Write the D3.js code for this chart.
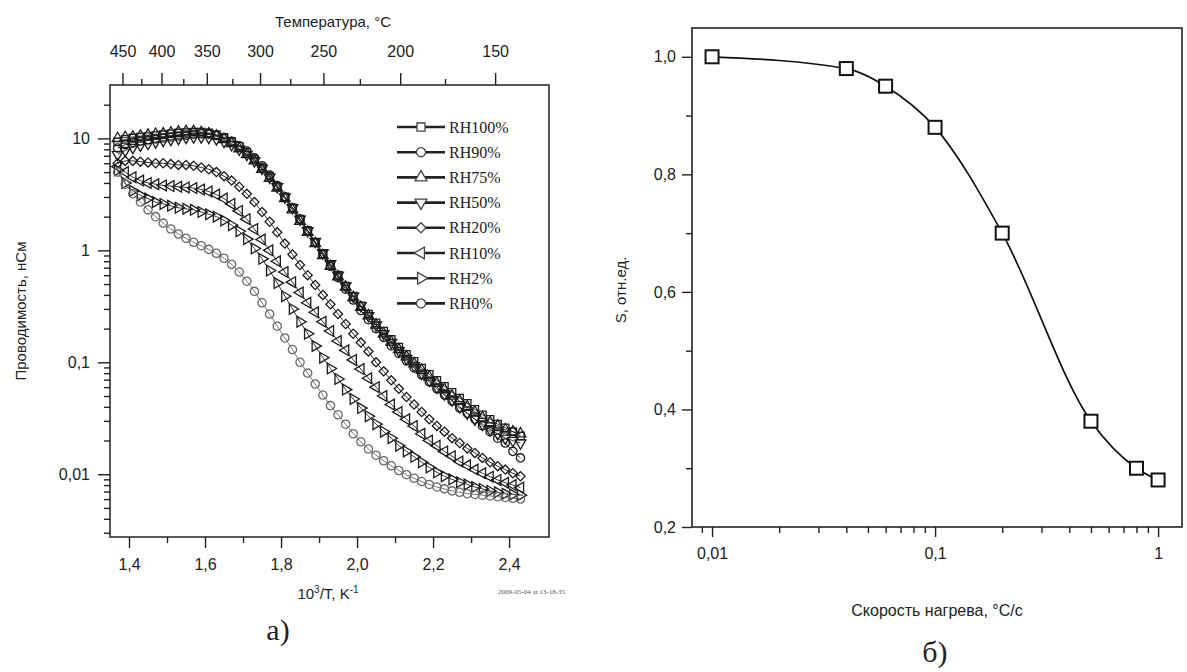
<!DOCTYPE html>
<html>
<head>
<meta charset="utf-8">
<script src="https://cdn.jsdelivr.net/npm/d3@7"></script>
<style>
body { margin: 0; background: #fff; }
text { font-family: "Liberation Sans", Arial, sans-serif; fill: #222; }
.serif { font-family: "Liberation Serif", "Times New Roman", serif; }
</style>
</head>
<body>
<svg width="1187" height="672"></svg>
<script>
// ---- data: panel a) conductivity vs 10^3/T ----
var invT = [1.37, 1.39, 1.41, 1.43, 1.45, 1.47, 1.49, 1.51, 1.53, 1.55,
  1.57, 1.59, 1.61, 1.63, 1.65, 1.67, 1.69, 1.71, 1.73, 1.75,
  1.77, 1.79, 1.81, 1.83, 1.85, 1.87, 1.89, 1.91, 1.93, 1.95,
  1.97, 1.99, 2.01, 2.03, 2.05, 2.07, 2.09, 2.11, 2.13, 2.15,
  2.17, 2.19, 2.21, 2.23, 2.25, 2.27, 2.29, 2.31, 2.33, 2.35,
  2.37, 2.39, 2.41, 2.43];

var rh100 = [9.3, 9.8, 10.1, 10.3, 10.4, 10.6, 10.8, 11.0, 11.2, 11.3,
  11.4, 11.4, 11.2, 10.8, 10.2, 9.4, 8.5, 7.5, 6.5, 5.5,
  4.6, 3.7, 3.0, 2.4, 1.9, 1.5, 1.18, 0.93, 0.74, 0.6,
  0.48, 0.39, 0.32, 0.27, 0.225, 0.19, 0.16, 0.137, 0.118, 0.102,
  0.089, 0.078, 0.069, 0.061, 0.054, 0.048, 0.043, 0.038, 0.034, 0.031,
  0.028, 0.026, 0.024, 0.022];
var rh90 = [8.2, 8.8, 9.2, 9.5, 9.7, 9.9, 10.1, 10.3, 10.5, 10.7,
  10.9, 11.0, 10.9, 10.6, 10.1, 9.4, 8.6, 7.7, 6.7, 5.7,
  4.7, 3.8, 3.0, 2.4, 1.9, 1.5, 1.17, 0.92, 0.72, 0.57,
  0.45, 0.36, 0.29, 0.24, 0.2, 0.167, 0.14, 0.12, 0.103, 0.089,
  0.077, 0.067, 0.058, 0.051, 0.045, 0.039, 0.035, 0.031, 0.027, 0.024,
  0.021, 0.019, 0.016, 0.014];
var rh75 = [10.0, 10.2, 10.3, 10.5, 10.7, 10.9, 11.0, 11.2, 11.4, 11.5,
  11.5, 11.3, 11.0, 10.5, 9.8, 9.0, 8.1, 7.2, 6.3, 5.3,
  4.4, 3.6, 2.9, 2.3, 1.82, 1.45, 1.15, 0.9, 0.72, 0.58,
  0.47, 0.38, 0.31, 0.26, 0.215, 0.18, 0.152, 0.13, 0.112, 0.097,
  0.085, 0.074, 0.065, 0.057, 0.05, 0.045, 0.04, 0.036, 0.032, 0.029,
  0.027, 0.025, 0.024, 0.023];
var rh50 = [7.2, 7.8, 8.3, 8.7, 9.0, 9.3, 9.6, 9.8, 10.0, 10.2,
  10.3, 10.3, 10.2, 9.9, 9.4, 8.8, 8.0, 7.2, 6.3, 5.4,
  4.5, 3.7, 3.0, 2.4, 1.9, 1.5, 1.2, 0.95, 0.76, 0.6,
  0.48, 0.39, 0.32, 0.26, 0.215, 0.18, 0.15, 0.127, 0.108, 0.093,
  0.08, 0.069, 0.06, 0.052, 0.046, 0.04, 0.035, 0.031, 0.028, 0.025,
  0.023, 0.021, 0.02, 0.019];
var rh20 = [6.0, 6.3, 6.3, 6.2, 6.1, 6.0, 6.0, 5.9, 5.8, 5.8,
  5.7, 5.5, 5.3, 5.0, 4.6, 4.2, 3.7, 3.2, 2.7, 2.2,
  1.8, 1.45, 1.15, 0.92, 0.74, 0.6, 0.49, 0.4, 0.33, 0.27,
  0.22, 0.18, 0.15, 0.125, 0.1, 0.083, 0.069, 0.058, 0.049, 0.042,
  0.036, 0.031, 0.027, 0.024, 0.021, 0.019, 0.017, 0.0155, 0.014, 0.0128,
  0.0118, 0.011, 0.0102, 0.0096];
var rh10 = [5.6, 5.0, 4.5, 4.2, 4.0, 3.9, 3.8, 3.75, 3.7, 3.65,
  3.6, 3.5, 3.35, 3.15, 2.9, 2.6, 2.25, 1.9, 1.55, 1.25,
  1.0, 0.8, 0.64, 0.52, 0.42, 0.34, 0.28, 0.23, 0.19, 0.155,
  0.128, 0.105, 0.087, 0.072, 0.06, 0.05, 0.042, 0.036, 0.031, 0.027,
  0.023, 0.02, 0.018, 0.016, 0.0145, 0.013, 0.012, 0.011, 0.0102, 0.0095,
  0.0089, 0.0084, 0.008, 0.0076];
var rh2 = [5.2, 4.0, 3.4, 3.1, 2.9, 2.7, 2.6, 2.5, 2.4, 2.35,
  2.3, 2.2, 2.1, 2.0, 1.85, 1.68, 1.48, 1.26, 1.04, 0.84,
  0.66, 0.51, 0.39, 0.3, 0.23, 0.18, 0.14, 0.11, 0.088, 0.071,
  0.057, 0.047, 0.039, 0.033, 0.028, 0.024, 0.021, 0.018, 0.016, 0.0143,
  0.0128, 0.0115, 0.0104, 0.0096, 0.009, 0.0085, 0.0081, 0.0077, 0.0074, 0.0071,
  0.0069, 0.0067, 0.0066, 0.0065];
var rh0 = [5.0, 3.9, 3.2, 2.7, 2.3, 2.0, 1.75, 1.55, 1.4, 1.28,
  1.18, 1.1, 1.02, 0.94, 0.85, 0.75, 0.64, 0.53, 0.43, 0.34,
  0.27, 0.21, 0.165, 0.13, 0.1, 0.08, 0.064, 0.051, 0.041, 0.034,
  0.028, 0.023, 0.0195, 0.0168, 0.0148, 0.0132, 0.0119, 0.0108, 0.0099, 0.0092,
  0.0086, 0.0081, 0.0077, 0.0074, 0.0071, 0.0069, 0.0067, 0.0066, 0.0065, 0.0064,
  0.0063, 0.0062, 0.0061, 0.006];

var seriesNames = ["RH100%", "RH90%", "RH75%", "RH50%", "RH20%", "RH10%", "RH2%", "RH0%"];
var seriesSymbols = ["square", "circle", "up", "down", "diamond", "left", "right", "circle"];
var seriesValues = [rh100, rh90, rh75, rh50, rh20, rh10, rh2, rh0];

var topTemps = [450, 400, 350, 300, 250, 200, 150];
var topTempsMinor = [425, 375, 325, 275, 225, 175];
var bottomTicks = [1.4, 1.6, 1.8, 2.0, 2.2, 2.4];
var bottomMinor = [1.5, 1.7, 1.9, 2.1, 2.3];
var leftTicks = [0.01, 0.1, 1, 10];

// ---- data: panel б) S vs heating rate ----
var rate = [0.01, 0.04, 0.06, 0.1, 0.2, 0.5, 0.8, 1];
var sRel = [1.0, 0.98, 0.95, 0.88, 0.70, 0.38, 0.30, 0.28];
var sTicks = [0.2, 0.4, 0.6, 0.8, 1.0];
var sMinor = [0.3, 0.5, 0.7, 0.9];
var rateTicks = [0.01, 0.1, 1];

var svg = d3.select("svg");
var comma = function(f) { return function(d) { return d3.format(f)(d).replace(".", ","); }; };

function symbolPath(kind, big) {
  var k = big ? 1.2 : 1;
  if (kind == "square") return d3.symbol(d3.symbolSquare, 54 * k)();
  if (kind == "circle") return d3.symbol(d3.symbolCircle, 54 * k)();
  if (kind == "diamond") return d3.symbol(d3.symbolSquare, 42 * k)();
  return d3.symbol(d3.symbolTriangle, 50 * k)();
}
function symbolRot(kind) {
  if (kind == "diamond") return 45;
  if (kind == "down") return 180;
  if (kind == "left") return -90;
  if (kind == "right") return 90;
  return 0;
}

function styleAxis(g) {
  g.select(".domain").remove();
  g.selectAll("line").attr("stroke", "#222").attr("stroke-width", 1.4);
  g.selectAll("text").attr("font-size", 16).attr("fill", "#222")
    .style("font-family", "'Liberation Sans', Arial, sans-serif");
}

// ================= panel a) =================
var x1 = d3.scaleLinear().domain([1.35, 2.505]).range([110, 549]);
var y1 = d3.scaleLog().domain([0.00275, 30]).range([537, 85]);

var minorLog = [];
[0.001, 0.01, 0.1, 1, 10].forEach(function(dec) {
  for (var m = 2; m <= 9; m++) {
    var v = dec * m;
    if (v > 0.00275 && v < 30) minorLog.push(v);
  }
});

svg.append("g").attr("transform", "translate(0,537)")
  .call(d3.axisBottom(x1).tickValues(bottomTicks).tickFormat(comma(".1f")).tickSize(11).tickPadding(11))
  .call(styleAxis);
svg.append("g").attr("transform", "translate(0,537)")
  .call(d3.axisBottom(x1).tickValues(bottomMinor).tickFormat("").tickSize(6))
  .call(styleAxis);

var invTemp = function(t) { return 1000 / (t + 273.15); };
svg.append("g").attr("transform", "translate(0,85)")
  .call(d3.axisTop(x1).tickValues(topTemps.map(invTemp))
    .tickFormat(function(d) { return Math.round(1000 / d - 273.15); }).tickSize(12).tickPadding(16))
  .call(styleAxis);
svg.append("g").attr("transform", "translate(0,85)")
  .call(d3.axisTop(x1).tickValues(topTempsMinor.map(invTemp)).tickFormat("").tickSize(6))
  .call(styleAxis);

svg.append("g").attr("transform", "translate(110,0)")
  .call(d3.axisLeft(y1).tickValues(leftTicks)
    .tickFormat(function(d) { return d >= 1 ? d3.format("d")(d) : comma("." + Math.round(-Math.log10(d)) + "f")(d); })
    .tickSize(12).tickPadding(8))
  .call(styleAxis);
svg.append("g").attr("transform", "translate(110,0)")
  .call(d3.axisLeft(y1).tickValues(minorLog).tickFormat("").tickSize(6))
  .call(styleAxis);

svg.append("rect").attr("x", 110).attr("y", 85).attr("width", 439).attr("height", 452)
  .attr("fill", "none").attr("stroke", "#222").attr("stroke-width", 1.5);

// curves
var line1 = d3.line()
  .x(function(d) { return x1(d[0]); })
  .y(function(d) { return y1(d[1]); });

var plot1 = svg.append("g");
seriesValues.forEach(function(vals, i) {
  var pts = invT.map(function(x, j) { return [x, vals[j]]; });
  var col = i == 7 ? "#6a6a6a" : "#1c1c1c";
  plot1.append("path").datum(pts)
    .attr("d", line1).attr("fill", "none").attr("stroke", col).attr("stroke-width", 0.9);
  plot1.selectAll(".m" + i).data(pts).enter().append("path")
    .attr("class", "m" + i)
    .attr("d", symbolPath(seriesSymbols[i]))
    .attr("transform", function(d) {
      return "translate(" + x1(d[0]) + "," + y1(d[1]) + ") rotate(" + symbolRot(seriesSymbols[i]) + ")";
    })
    .attr("fill", "none").attr("stroke", col).attr("stroke-width", 1.3);
});

// legend
var legend = svg.append("g");
seriesNames.forEach(function(name, i) {
  var ly = 127 + i * 25.2;
  legend.append("line").attr("x1", 397).attr("x2", 445).attr("y1", ly).attr("y2", ly)
    .attr("stroke", "#222").attr("stroke-width", 2.6);
  legend.append("path").attr("d", symbolPath(seriesSymbols[i], true))
    .attr("transform", "translate(421," + ly + ") rotate(" + symbolRot(seriesSymbols[i]) + ")")
    .attr("fill", "#fff").attr("stroke", "#444").attr("stroke-width", 1.3);
  legend.append("text").attr("class", "serif").attr("x", 449).attr("y", ly + 5.5)
    .attr("font-size", 16).text(name);
});

// titles
svg.append("text").attr("x", 333).attr("y", 27).attr("text-anchor", "middle")
  .attr("font-size", 15).text("Температура, °C");
svg.append("text").attr("transform", "translate(26,311) rotate(-90)").attr("text-anchor", "middle")
  .attr("font-size", 15).text("Проводимость, нСм");
var xt = svg.append("text").attr("x", 328).attr("y", 599).attr("text-anchor", "middle").attr("font-size", 15);
xt.append("tspan").text("10");
xt.append("tspan").attr("dy", -6).attr("font-size", 10).text("3");
xt.append("tspan").attr("dy", 6).text("/T, K");
xt.append("tspan").attr("dy", -6).attr("font-size", 10).text("-1");
svg.append("text").attr("class", "serif").attr("x", 565).attr("y", 594).attr("text-anchor", "end")
  .attr("font-size", 7).style("fill", "#555").text("2009-05-04 at 13-18-35");
svg.append("text").attr("class", "serif").attr("x", 278).attr("y", 640).attr("text-anchor", "middle")
  .attr("font-size", 30).text("а)");

// ================= panel б) =================
var x2 = d3.scaleLog().domain([0.00813, 1.28]).range([692, 1182]);
var y2 = d3.scaleLinear().domain([0.2, 1.049]).range([527, 28]);

var rateMinor = [];
[0.001, 0.01, 0.1].forEach(function(dec) {
  for (var m = 2; m <= 9; m++) {
    var v = dec * m;
    if (v > 0.00813 && v < 1.28) rateMinor.push(v);
  }
});

svg.append("g").attr("transform", "translate(0,527)")
  .call(d3.axisBottom(x2).tickValues(rateTicks)
    .tickFormat(function(d) { return d >= 1 ? "1" : comma("." + Math.round(-Math.log10(d)) + "f")(d); })
    .tickSize(10).tickPadding(11))
  .call(styleAxis);
svg.append("g").attr("transform", "translate(0,527)")
  .call(d3.axisBottom(x2).tickValues(rateMinor).tickFormat("").tickSize(6))
  .call(styleAxis);
svg.append("g").attr("transform", "translate(692,0)")
  .call(d3.axisLeft(y2).tickValues(sTicks).tickFormat(comma(".1f")).tickSize(10).tickPadding(6))
  .call(styleAxis);
svg.append("g").attr("transform", "translate(692,0)")
  .call(d3.axisLeft(y2).tickValues(sMinor).tickFormat("").tickSize(6))
  .call(styleAxis);

svg.append("rect").attr("x", 692).attr("y", 28).attr("width", 490).attr("height", 499)
  .attr("fill", "none").attr("stroke", "#222").attr("stroke-width", 1.6);

var line2 = d3.line()
  .x(function(d, i) { return x2(rate[i]); })
  .y(function(d) { return y2(d); })
  .curve(d3.curveMonotoneX);

svg.append("path").datum(sRel).attr("d", line2)
  .attr("fill", "none").attr("stroke", "#111").attr("stroke-width", 1.7);

svg.selectAll(".sq").data(sRel).enter().append("rect")
  .attr("class", "sq")
  .attr("x", function(d, i) { return x2(rate[i]) - 6.5; })
  .attr("y", function(d) { return y2(d) - 6.5; })
  .attr("width", 13).attr("height", 13)
  .attr("fill", "#fff").attr("stroke", "#111").attr("stroke-width", 2);

svg.append("text").attr("transform", "translate(626,290) rotate(-90)").attr("text-anchor", "middle")
  .attr("font-size", 15).text("S, отн.ед.");
svg.append("text").attr("x", 937).attr("y", 616).attr("text-anchor", "middle")
  .attr("font-size", 16).text("Скорость нагрева, °C/с");
svg.append("text").attr("class", "serif").attr("x", 935).attr("y", 662).attr("text-anchor", "middle")
  .attr("font-size", 30).text("б)");
</script>
</body>
</html>
